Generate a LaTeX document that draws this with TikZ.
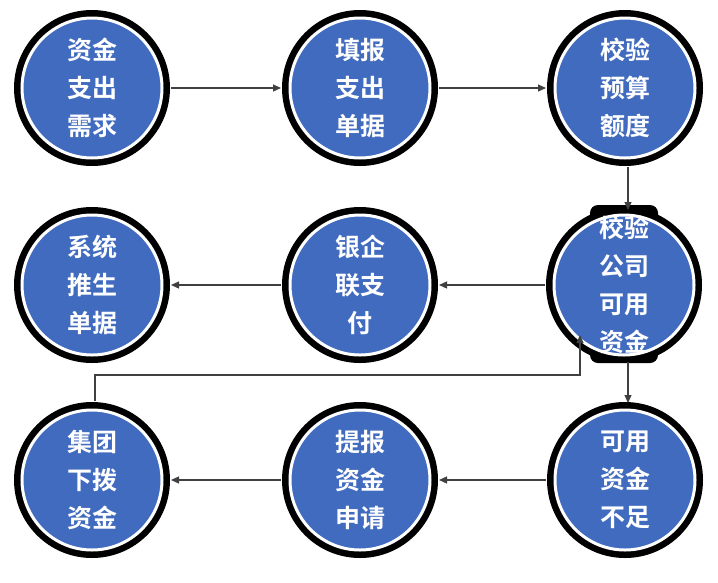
\documentclass[tikz,border=0pt]{standalone}
\usepackage{fontspec}
\newfontfamily\cjk[BoldFont={Noto Sans CJK SC Bold}]{Noto Sans CJK SC}
\usetikzlibrary{arrows.meta}
\definecolor{ballblue}{rgb}{0.25, 0.42, 0.75}
\definecolor{linkgray}{rgb}{0.25, 0.25, 0.25}
\tikzset{
  ball/.style={circle, draw=white, line width=3pt, fill=ballblue, minimum size=140pt,
    text=white, align=center, outer sep=9pt,
    font=\cjk\bfseries\fontsize{25}{38}\selectfont, inner sep=0pt},
  ring/.style={circle, fill=black, minimum size=156pt, inner sep=0pt},
  link/.style={draw=linkgray, line width=1.2pt, -{Triangle[length=8pt,width=7pt]}}
}
\begin{document}
\begin{tikzpicture}[x=1pt,y=-1pt]
  \useasboundingbox (0,0) rectangle (718,582);
  % black rings behind the balls
  \foreach \cx/\cy in {92/88,360/88,625/88,92/285,360/285,92/480,360/480,625/480}
    \node[ring] at (\cx,\cy) {};
  \node[ring] at (624,285) {};
  \fill[black, rounded corners=8pt] (590,205) rectangle (658,363);

  % balls
  \node[ball] (need)   at (92,88)   {资金\\支出\\需求};
  \node[ball] (fill)   at (360,88)  {填报\\支出\\单据};
  \node[ball] (budget) at (625,88)  {校验\\预算\\额度};
  \node[ball] (voucher) at (92,285) {系统\\推生\\单据};
  \node[ball] (bank)   at (360,285) {银企\\联支\\付};
  \node[ball] (check)  at (624,285) {};
  \node[text=white, align=center, font=\cjk\bfseries\fontsize{25}{38}\selectfont] (checktxt) at (624,285) {校验\\公司\\可用\\资金};
  \node[ball] (alloc)  at (92,480)  {集团\\下拨\\资金};
  \node[ball] (apply)  at (360,480) {提报\\资金\\申请};
  \node[ball] (short)  at (625,480) {可用\\资金\\不足};

  % connectors
  \coordinate (downA) at (628,210);
  \coordinate (downB) at (628,362);
  \coordinate (downC) at (628,403);
  \coordinate (turnA) at (95,375);
  \coordinate (turnB) at (580,375);
  \coordinate (turnC) at (580,335);
  \draw[link] (need) -- (fill);
  \draw[link] (fill) -- (budget);
  \draw[link] (budget.south -| downA) -- (downA);
  \draw[link] (check) -- (bank);
  \draw[link] (bank) -- (voucher);
  \draw[link] (downB) -- (downC);
  \draw[link] (short) -- (apply);
  \draw[link] (apply) -- (alloc);
  \draw[link] (alloc.north -| turnA) -- (turnA) -- (turnB) -- (turnC);
\end{tikzpicture}
\end{document}
